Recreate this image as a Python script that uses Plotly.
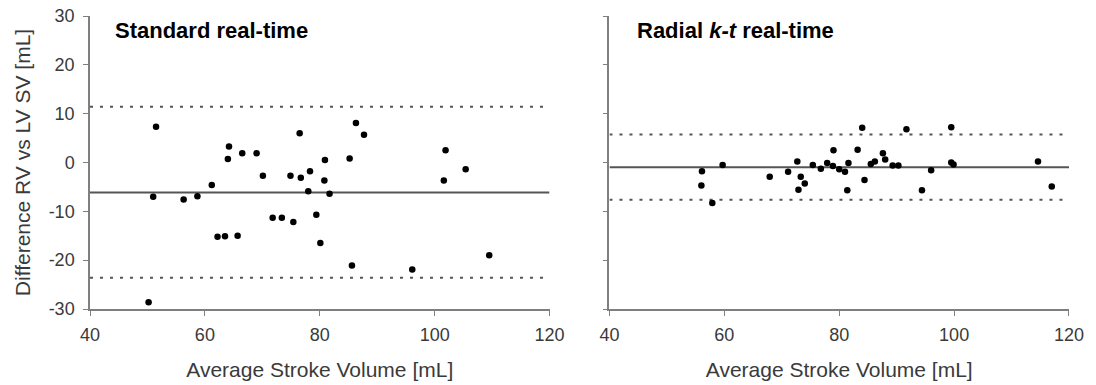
import plotly.graph_objects as go

# Standard real-time
std_x = [51.5, 51.0, 50.2, 56.3, 58.7, 61.2, 62.2, 63.5, 65.7, 64.0, 64.2, 66.5, 69.0, 70.1,
         71.8, 73.4, 75.4, 74.9, 76.5, 76.7, 78.3, 78.0, 79.4, 80.1, 80.9, 80.8, 81.7, 85.2,
         86.3, 87.7, 85.6, 96.1, 101.9, 101.6, 105.4, 109.5]
std_y = [7.3, -7.0, -28.6, -7.6, -6.9, -4.6, -15.2, -15.1, -15.0, 0.7, 3.3, 1.9, 1.9, -2.7,
         -11.3, -11.3, -12.2, -2.7, 6.0, -3.1, -1.8, -5.9, -10.7, -16.5, 0.5, -3.7, -6.4, 0.8,
         8.1, 5.7, -21.1, -21.9, 2.5, -3.7, -1.4, -19.0]
std_mean, std_upper, std_lower = -6.15, 11.4, -23.6

# Radial k-t real-time
kt_x = [56.1, 56.0, 57.9, 59.7, 67.9, 71.1, 72.7, 73.3, 74.0, 72.9, 75.4, 76.8, 77.9, 78.9,
        79.0, 80.0, 81.0, 81.4, 81.6, 84.0, 83.2, 84.4, 85.5, 86.2, 87.6, 88.0, 89.3, 90.3,
        91.7, 94.4, 96.0, 99.5, 99.5, 99.9, 114.6, 117.0]
kt_y = [-1.8, -4.7, -8.3, -0.5, -2.9, -1.9, 0.2, -2.9, -4.3, -5.6, -0.5, -1.3, -0.1, -0.7,
        2.5, -1.4, -1.9, -5.7, -0.1, 7.1, 2.6, -3.6, -0.3, 0.2, 1.9, 0.6, -0.6, -0.6,
        6.8, -5.7, -1.6, 7.2, 0.0, -0.4, 0.2, -4.9]
kt_mean, kt_upper, kt_lower = -0.95, 5.74, -7.65

x_range = [40, 120]
x_ticks = [40, 60, 80, 100, 120]
y_ticks = [-30, -20, -10, 0, 10, 20, 30]
y_ticktext = ["-30", "-20", "-10", "0", "10", "20", "30"]
titles = ["Standard real-time", "Radial <i>k-t</i> real-time"]
x_title = "Average Stroke Volume [mL]"
y_title = "Difference RV vs LV SV [mL]"

line_col = "#555555"
axis_col = "#7f7f7f"
text_col = "#3a3a3a"
font_fam = "Liberation Sans, Arial, sans-serif"

fig = go.Figure()
panels = [(std_x, std_y, std_mean, std_upper, std_lower, "x", "y"),
          (kt_x, kt_y, kt_mean, kt_upper, kt_lower, "x2", "y2")]
for xs, ys, m, up, lo, xa, ya in panels:
    for val, dash in [(up, "3px,7px"), (lo, "3px,7px"), (m, "solid")]:
        fig.add_trace(go.Scatter(x=x_range, y=[val, val], mode="lines", xaxis=xa, yaxis=ya,
                                 line=dict(color=line_col, width=2, dash=dash),
                                 showlegend=False, hoverinfo="skip"))
    fig.add_trace(go.Scatter(x=xs, y=ys, mode="markers", xaxis=xa, yaxis=ya,
                             marker=dict(color="black", size=6.5), showlegend=False))

axis_common = dict(showline=True, linecolor=axis_col, linewidth=1.5, ticks="outside",
                   ticklen=5, tickcolor=axis_col, showgrid=False, zeroline=False,
                   automargin=False,
                   tickfont=dict(size=18, color=text_col, family=font_fam))
xt = dict(text=x_title, font=dict(size=21, color=text_col), standoff=18)
fig.update_layout(
    width=1096, height=385,
    margin=dict(l=89.5, r=26.5, t=16, b=76),
    plot_bgcolor="white", paper_bgcolor="white",
    font=dict(family=font_fam, color=text_col),
    xaxis=dict(domain=[0, 460 / 980], range=x_range, tickvals=x_ticks, ticklabelstandoff=4,
               title=xt, **axis_common),
    xaxis2=dict(domain=[520 / 980, 1], range=x_range, tickvals=x_ticks, ticklabelstandoff=4,
                title=xt, **axis_common),
    yaxis=dict(range=[-30, 30], tickvals=y_ticks, ticktext=y_ticktext, anchor="x",
               ticklabelstandoff=5,
               title=dict(text=y_title, font=dict(size=21, color=text_col), standoff=12),
               **axis_common),
    yaxis2=dict(range=[-30, 30], tickvals=y_ticks, anchor="x2", showticklabels=False,
                **axis_common),
)
for i, (t, xr) in enumerate(zip(titles, ["x domain", "x2 domain"])):
    fig.add_annotation(text="<b>" + t + "</b>", xref=xr, yref="y domain" if i == 0 else "y2 domain",
                       x=0.049 if i == 0 else 0.055, y=0.952, xanchor="left", yanchor="middle",
                       showarrow=False, font=dict(size=22, color="black", family=font_fam))

fig.write_html("out.html", config={"displayModeBar": False},
               post_script="document.body.style.margin='0';")
